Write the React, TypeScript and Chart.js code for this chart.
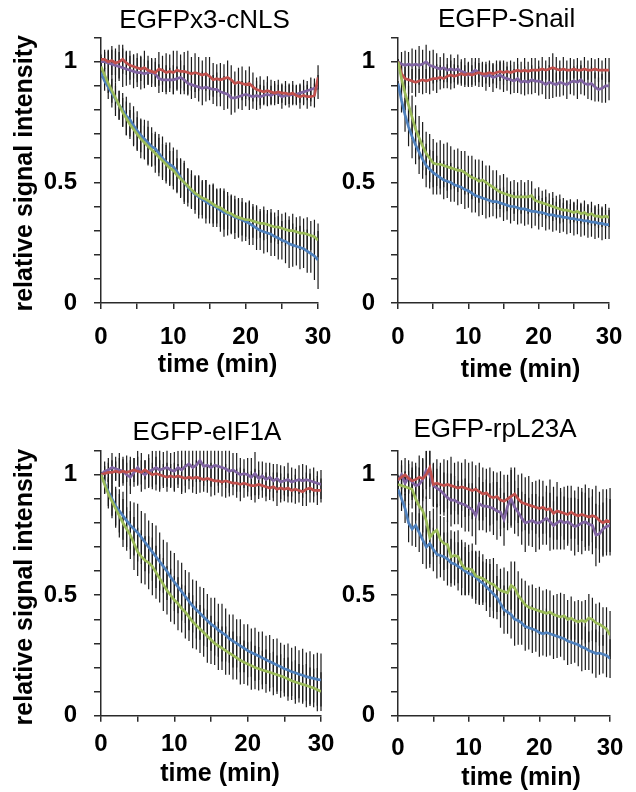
import React, { useEffect, useRef } from "react";
import { Chart, registerables } from "chart.js";

Chart.register(...registerables);

// ---------- data ----------
const TIME = [
  0, 0.5, 1, 1.5, 2, 2.5, 3, 3.5, 4, 4.5,
  5, 5.5, 6, 6.5, 7, 7.5, 8, 8.5, 9, 9.5,
  10, 10.5, 11, 11.5, 12, 12.5, 13, 13.5, 14, 14.5,
  15, 15.5, 16, 16.5, 17, 17.5, 18, 18.5, 19, 19.5,
  20, 20.5, 21, 21.5, 22, 22.5, 23, 23.5, 24, 24.5,
  25, 25.5, 26, 26.5, 27, 27.5, 28, 28.5, 29, 29.5,
  30,
];

const X_TICK_LABELS = ["0", "10", "20", "30"];
const Y_TICK_LABELS = ["0", "0.5", "1"];
const PANEL_TITLES = ["EGFPx3-cNLS", "EGFP-Snail", "EGFP-eIF1A", "EGFP-rpL23A"];
const SERIES_NAMES = ["red", "purple", "green", "blue"];
const X_TITLE = "time (min)";
const Y_TITLE = "relative signal intensity";

// Panel 1: EGFPx3-cNLS
const RED1 = [
  1.01, 1.01, 1.0, 1.005, 0.995, 1.0, 1.01, 0.995, 0.985, 0.98,
  0.975, 0.97, 0.975, 0.965, 0.96, 0.955, 0.97, 0.965, 0.955, 0.96,
  0.955, 0.965, 0.96, 0.96, 0.955, 0.95, 0.955, 0.95, 0.945, 0.95,
  0.94, 0.925, 0.93, 0.925, 0.93, 0.935, 0.925, 0.91, 0.915, 0.91,
  0.905, 0.91, 0.895, 0.885, 0.88, 0.875, 0.88, 0.875, 0.87, 0.875,
  0.87, 0.87, 0.865, 0.87, 0.86, 0.855, 0.86, 0.855, 0.855, 0.86,
  0.935,
];
const PUR1 = [
  1.0, 1.0, 0.995, 0.99, 0.985, 0.98, 0.975, 0.97, 0.965, 0.96,
  0.955, 0.955, 0.95, 0.955, 0.955, 0.95, 0.93, 0.925, 0.925, 0.925,
  0.925, 0.93, 0.935, 0.925, 0.91, 0.905, 0.9, 0.895, 0.89, 0.895,
  0.89, 0.885, 0.885, 0.875, 0.87, 0.865, 0.85, 0.85, 0.855, 0.86,
  0.865, 0.86, 0.855, 0.86, 0.855, 0.86, 0.865, 0.86, 0.87, 0.865,
  0.855, 0.86, 0.86, 0.865, 0.865, 0.87, 0.875, 0.88, 0.885, 0.89,
  0.895,
];
const GRN1 = [
  0.98, 0.945, 0.91, 0.88, 0.85, 0.82, 0.79, 0.765, 0.74, 0.72,
  0.7, 0.68, 0.665, 0.65, 0.635, 0.62, 0.605, 0.59, 0.575, 0.56,
  0.55, 0.53, 0.515, 0.5, 0.485, 0.47, 0.455, 0.445, 0.435, 0.43,
  0.42, 0.41, 0.4, 0.395, 0.385, 0.375, 0.37, 0.36, 0.355, 0.35,
  0.345, 0.345, 0.34, 0.335, 0.33, 0.33, 0.325, 0.32, 0.315, 0.315,
  0.31, 0.305, 0.3, 0.3, 0.295, 0.29, 0.29, 0.285, 0.28, 0.275,
  0.26,
];
const BLU1 = [
  0.955, 0.92, 0.895, 0.87, 0.845, 0.82, 0.8, 0.775, 0.76, 0.735,
  0.715, 0.695, 0.68, 0.665, 0.648, 0.64, 0.62, 0.6, 0.585, 0.575,
  0.565, 0.545, 0.52, 0.5, 0.48, 0.465, 0.45, 0.44, 0.43, 0.42,
  0.41, 0.405, 0.395, 0.385, 0.375, 0.37, 0.365, 0.355, 0.35, 0.345,
  0.337, 0.33, 0.32, 0.31, 0.3, 0.295, 0.29, 0.285, 0.275, 0.27,
  0.26, 0.255, 0.245, 0.24, 0.235, 0.23, 0.225, 0.215, 0.205, 0.195,
  0.178,
];
const ERR_RED1 = [
  0.02, 0.04, 0.05, 0.06, 0.05, 0.07, 0.06, 0.05, 0.06, 0.05,
  0.06, 0.05, 0.07, 0.06, 0.05, 0.06, 0.07, 0.06, 0.08, 0.07,
  0.09, 0.08, 0.07, 0.08, 0.09, 0.07, 0.08, 0.07, 0.06, 0.07,
  0.08, 0.07, 0.06, 0.07, 0.06, 0.07, 0.06, 0.05, 0.06, 0.07,
  0.06, 0.07, 0.06, 0.05, 0.06, 0.05, 0.06, 0.05, 0.04, 0.05,
  0.04, 0.05, 0.04, 0.05, 0.04, 0.05, 0.04, 0.05, 0.04, 0.05,
  0.05,
];
const ERR_PUR1 = [
  0.02, 0.04, 0.05, 0.06, 0.07, 0.06, 0.08, 0.07, 0.06, 0.07,
  0.06, 0.07, 0.06, 0.05, 0.06, 0.05, 0.06, 0.05, 0.06, 0.05,
  0.06, 0.05, 0.07, 0.06, 0.05, 0.06, 0.05, 0.06, 0.07, 0.06,
  0.05, 0.06, 0.07, 0.06, 0.07, 0.06, 0.07, 0.06, 0.05, 0.06,
  0.05, 0.06, 0.05, 0.06, 0.05, 0.04, 0.05, 0.04, 0.05, 0.04,
  0.05, 0.04, 0.05, 0.04, 0.04, 0.04, 0.05, 0.04, 0.05, 0.04,
  0.05,
];
const ERR_GRN1 = [
  0.01, 0.03, 0.04, 0.05, 0.05, 0.06, 0.06, 0.07, 0.06, 0.07,
  0.07, 0.08, 0.07, 0.08, 0.07, 0.08, 0.08, 0.07, 0.08, 0.07,
  0.08, 0.07, 0.08, 0.08, 0.07, 0.08, 0.07, 0.08, 0.07, 0.08,
  0.07, 0.08, 0.07, 0.08, 0.08, 0.07, 0.08, 0.07, 0.08, 0.07,
  0.07, 0.08, 0.07, 0.07, 0.06, 0.07, 0.06, 0.07, 0.06, 0.07,
  0.06, 0.07, 0.06, 0.07, 0.06, 0.07, 0.06, 0.07, 0.06, 0.07,
  0.07,
];
const ERR_BLU1 = [
  0.02, 0.04, 0.05, 0.06, 0.07, 0.06, 0.07, 0.08, 0.07, 0.08,
  0.08, 0.07, 0.08, 0.09, 0.08, 0.07, 0.08, 0.09, 0.08, 0.09,
  0.08, 0.09, 0.08, 0.09, 0.08, 0.07, 0.08, 0.09, 0.08, 0.09,
  0.08, 0.09, 0.08, 0.09, 0.1, 0.09, 0.08, 0.09, 0.08, 0.09,
  0.08, 0.09, 0.08, 0.09, 0.08, 0.09, 0.08, 0.09, 0.08, 0.09,
  0.08, 0.09, 0.1, 0.09, 0.08, 0.09, 0.08, 0.09, 0.08, 0.1,
  0.12,
];

// Panel 2: EGFP-Snail
const RED2 = [
  1.0, 0.95, 0.93, 0.925, 0.92, 0.915, 0.92, 0.925, 0.92, 0.925,
  0.93, 0.93, 0.935, 0.93, 0.94, 0.945, 0.94, 0.945, 0.95, 0.945,
  0.95, 0.945, 0.95, 0.955, 0.95, 0.95, 0.955, 0.95, 0.955, 0.96,
  0.955, 0.96, 0.955, 0.96, 0.965, 0.96, 0.965, 0.96, 0.965, 0.965,
  0.965, 0.97, 0.965, 0.97, 0.975, 0.97, 0.965, 0.97, 0.965, 0.965,
  0.97, 0.965, 0.965, 0.97, 0.965, 0.965, 0.97, 0.965, 0.965, 0.965,
  0.965,
];
const PUR2 = [
  1.0, 0.99, 0.985, 0.99, 0.985, 0.99, 0.985, 0.99, 1.0, 0.985,
  0.98, 0.975, 0.97, 0.975, 0.965, 0.97, 0.965, 0.97, 0.96, 0.955,
  0.945, 0.955, 0.965, 0.955, 0.945, 0.94, 0.945, 0.935, 0.94, 0.945,
  0.935, 0.93, 0.925, 0.92, 0.93, 0.915, 0.92, 0.915, 0.925, 0.92,
  0.92, 0.915, 0.905, 0.915, 0.91, 0.905, 0.915, 0.91, 0.905, 0.915,
  0.92, 0.915, 0.925, 0.91, 0.905, 0.91, 0.895, 0.885, 0.89, 0.9,
  0.9,
];
const GRN2 = [
  1.0, 0.93, 0.87, 0.82, 0.77, 0.72, 0.685, 0.65, 0.62, 0.6,
  0.58, 0.575, 0.575, 0.57, 0.565, 0.56, 0.555, 0.55, 0.55, 0.54,
  0.53, 0.52, 0.515, 0.505, 0.51, 0.5, 0.49, 0.48, 0.47, 0.46,
  0.455, 0.45, 0.445, 0.44, 0.44, 0.44, 0.44, 0.44, 0.445, 0.425,
  0.42, 0.415, 0.41, 0.405, 0.4, 0.395, 0.39, 0.385, 0.385, 0.38,
  0.375, 0.38, 0.37, 0.375, 0.365, 0.37, 0.36, 0.36, 0.355, 0.36,
  0.355,
];
const BLU2 = [
  0.91, 0.84, 0.78, 0.73, 0.69, 0.655, 0.625, 0.595, 0.57, 0.555,
  0.54, 0.53, 0.52, 0.51, 0.505, 0.5, 0.49, 0.485, 0.48, 0.47,
  0.465, 0.455, 0.445, 0.44, 0.435, 0.43, 0.425, 0.42, 0.42, 0.415,
  0.41, 0.405, 0.4, 0.4, 0.395, 0.39, 0.39, 0.385, 0.38, 0.38,
  0.375, 0.375, 0.37, 0.365, 0.365, 0.36, 0.36, 0.355, 0.355, 0.35,
  0.35, 0.345, 0.345, 0.34, 0.34, 0.335, 0.335, 0.33, 0.33, 0.325,
  0.325,
];
const ERR_RED2 = [
  0.01, 0.04, 0.05, 0.06, 0.05, 0.06, 0.05, 0.06, 0.05, 0.06,
  0.05, 0.06, 0.05, 0.04, 0.05, 0.06, 0.05, 0.04, 0.05, 0.04,
  0.05, 0.04, 0.05, 0.04, 0.05, 0.04, 0.05, 0.04, 0.05, 0.04,
  0.05, 0.04, 0.05, 0.04, 0.05, 0.04, 0.05, 0.04, 0.05, 0.05,
  0.04, 0.05, 0.04, 0.05, 0.06, 0.05, 0.04, 0.05, 0.04, 0.05,
  0.04, 0.05, 0.04, 0.05, 0.04, 0.05, 0.04, 0.05, 0.04, 0.05,
  0.05,
];
const ERR_PUR2 = [
  0.01, 0.05, 0.06, 0.05, 0.07, 0.06, 0.08, 0.06, 0.07, 0.06,
  0.07, 0.06, 0.05, 0.06, 0.05, 0.06, 0.05, 0.06, 0.05, 0.06,
  0.05, 0.06, 0.05, 0.06, 0.05, 0.06, 0.05, 0.06, 0.05, 0.06,
  0.06, 0.05, 0.06, 0.05, 0.06, 0.05, 0.06, 0.05, 0.06, 0.05,
  0.06, 0.05, 0.06, 0.07, 0.06, 0.05, 0.06, 0.05, 0.06, 0.05,
  0.06, 0.07, 0.06, 0.05, 0.06, 0.07, 0.06, 0.05, 0.06, 0.07,
  0.06,
];
const ERR_GRN2 = [
  0.01, 0.05, 0.07, 0.08, 0.09, 0.1, 0.09, 0.1, 0.09, 0.1,
  0.1, 0.09, 0.1, 0.09, 0.1, 0.09, 0.08, 0.09, 0.08, 0.09,
  0.08, 0.09, 0.08, 0.09, 0.08, 0.07, 0.08, 0.07, 0.08, 0.07,
  0.08, 0.07, 0.06, 0.07, 0.06, 0.07, 0.06, 0.07, 0.06, 0.05,
  0.06, 0.05, 0.06, 0.05, 0.06, 0.05, 0.06, 0.05, 0.04, 0.05,
  0.04, 0.05, 0.04, 0.05, 0.04, 0.05, 0.04, 0.05, 0.04, 0.05,
  0.04,
];
const ERR_BLU2 = [
  0.01, 0.05, 0.07, 0.08, 0.09, 0.08, 0.09, 0.08, 0.09, 0.08,
  0.09, 0.08, 0.07, 0.08, 0.07, 0.08, 0.07, 0.08, 0.07, 0.08,
  0.07, 0.08, 0.07, 0.08, 0.07, 0.08, 0.07, 0.06, 0.07, 0.06,
  0.07, 0.06, 0.07, 0.06, 0.07, 0.06, 0.07, 0.06, 0.07, 0.06,
  0.07, 0.06, 0.07, 0.06, 0.07, 0.06, 0.07, 0.06, 0.07, 0.06,
  0.07, 0.06, 0.07, 0.06, 0.07, 0.06, 0.07, 0.06, 0.07, 0.06,
  0.06,
];

// Panel 3: EGFP-eIF1A
const RED3 = [
  1.0, 1.005, 1.01, 1.01, 1.015, 1.01, 1.015, 1.01, 1.015, 1.02,
  1.015, 1.01, 1.02, 1.01, 1.0, 1.005, 1.0, 0.995, 0.99, 0.995,
  0.99, 0.995, 0.99, 0.985, 0.99, 0.985, 0.99, 0.985, 0.98, 0.985,
  0.98, 0.975, 0.975, 0.97, 0.975, 0.97, 0.965, 0.965, 0.96, 0.965,
  0.96, 0.955, 0.955, 0.96, 0.955, 0.95, 0.945, 0.95, 0.94, 0.945,
  0.94, 0.945, 0.935, 0.94, 0.935, 0.93, 0.94, 0.945, 0.935, 0.935,
  0.935,
];
const PUR3 = [
  1.0, 1.015, 1.02, 1.03, 1.025, 1.02, 1.015, 1.0, 0.99, 1.01,
  1.03, 1.01, 1.0, 1.015, 1.02, 1.03, 1.02, 1.025, 1.03, 1.02,
  1.015, 1.03, 1.02, 1.035, 1.045, 1.03, 1.04, 1.06, 1.035, 1.04,
  1.03, 1.04, 1.035, 1.03, 1.025, 1.015, 1.02, 1.01, 1.0, 1.005,
  1.0, 0.99, 1.005, 0.985, 0.995, 0.98, 0.99, 0.975, 0.985, 0.97,
  0.975, 0.98, 0.97, 0.975, 0.98, 0.975, 0.98, 0.975, 0.97, 0.965,
  0.96,
];
const GRN3 = [
  1.0, 0.96, 0.92, 0.89, 0.86, 0.83, 0.8, 0.775, 0.75, 0.715,
  0.68, 0.66, 0.645, 0.635, 0.62, 0.595, 0.57, 0.545, 0.52, 0.5,
  0.48, 0.465, 0.445, 0.43, 0.41, 0.39, 0.375, 0.36, 0.345, 0.33,
  0.315, 0.3, 0.29, 0.28, 0.27, 0.26, 0.25, 0.24, 0.23, 0.222,
  0.215, 0.208, 0.2, 0.195, 0.19, 0.185, 0.18, 0.175, 0.17, 0.165,
  0.16, 0.152, 0.145, 0.14, 0.135, 0.13, 0.125, 0.12, 0.115, 0.108,
  0.1,
];
const BLU3 = [
  1.0, 0.965, 0.93, 0.9, 0.87, 0.85, 0.83, 0.81, 0.79, 0.775,
  0.76, 0.74, 0.72, 0.7, 0.68, 0.66, 0.64, 0.62, 0.6, 0.575,
  0.555, 0.535, 0.515, 0.495, 0.475, 0.455, 0.44, 0.425, 0.41, 0.395,
  0.38, 0.37, 0.355, 0.345, 0.335, 0.32, 0.31, 0.3, 0.29, 0.28,
  0.27, 0.262, 0.255, 0.248, 0.24, 0.232, 0.225, 0.218, 0.21, 0.203,
  0.195, 0.19, 0.182, 0.178, 0.172, 0.168, 0.162, 0.158, 0.155, 0.151,
  0.148,
];
const ERR_RED3 = [
  0.01, 0.03, 0.04, 0.05, 0.04, 0.06, 0.05, 0.04, 0.06, 0.05,
  0.06, 0.05, 0.04, 0.06, 0.05, 0.07, 0.06, 0.05, 0.06, 0.05,
  0.06, 0.05, 0.07, 0.06, 0.05, 0.06, 0.07, 0.06, 0.05, 0.06,
  0.07, 0.06, 0.05, 0.06, 0.07, 0.06, 0.05, 0.06, 0.07, 0.06,
  0.05, 0.06, 0.07, 0.06, 0.05, 0.06, 0.05, 0.06, 0.07, 0.06,
  0.05, 0.06, 0.05, 0.06, 0.05, 0.06, 0.07, 0.06, 0.05, 0.06,
  0.05,
];
const ERR_PUR3 = [
  0.01, 0.04, 0.05, 0.06, 0.05, 0.07, 0.06, 0.08, 0.07, 0.06,
  0.07, 0.08, 0.06, 0.07, 0.08, 0.07, 0.09, 0.07, 0.08, 0.07,
  0.08, 0.07, 0.09, 0.08, 0.07, 0.08, 0.07, 0.09, 0.08, 0.07,
  0.08, 0.07, 0.08, 0.07, 0.08, 0.09, 0.07, 0.08, 0.07, 0.06,
  0.07, 0.08, 0.09, 0.07, 0.06, 0.07, 0.06, 0.07, 0.06, 0.07,
  0.06, 0.07, 0.06, 0.05, 0.06, 0.07, 0.06, 0.05, 0.06, 0.05,
  0.06,
];
const ERR_GRN3 = [
  0.01, 0.04, 0.06, 0.07, 0.08, 0.09, 0.1, 0.09, 0.1, 0.11,
  0.1, 0.11, 0.1, 0.11, 0.12, 0.11, 0.1, 0.11, 0.1, 0.11,
  0.1, 0.11, 0.1, 0.11, 0.1, 0.11, 0.1, 0.1, 0.1, 0.11,
  0.1, 0.09, 0.1, 0.09, 0.1, 0.09, 0.1, 0.09, 0.1, 0.09,
  0.09, 0.1, 0.09, 0.09, 0.08, 0.09, 0.08, 0.09, 0.08, 0.09,
  0.08, 0.09, 0.08, 0.09, 0.08, 0.08, 0.09, 0.08, 0.08, 0.09,
  0.08,
];
const ERR_BLU3 = [
  0.01, 0.04, 0.06, 0.07, 0.08, 0.09, 0.1, 0.11, 0.1, 0.11,
  0.12, 0.11, 0.12, 0.11, 0.12, 0.13, 0.12, 0.11, 0.12, 0.11,
  0.12, 0.11, 0.12, 0.11, 0.12, 0.11, 0.12, 0.11, 0.12, 0.11,
  0.11, 0.12, 0.11, 0.12, 0.11, 0.1, 0.11, 0.1, 0.11, 0.1,
  0.11, 0.1, 0.11, 0.1, 0.11, 0.1, 0.11, 0.1, 0.11, 0.1,
  0.1, 0.11, 0.1, 0.11, 0.1, 0.11, 0.1, 0.11, 0.1, 0.11,
  0.11,
];

// Panel 4: EGFP-rpL23A
const RED4 = [
  0.98, 0.99, 1.0, 0.985, 0.975, 0.98, 0.99, 0.985, 1.0, 1.03,
  0.96, 0.965, 0.96, 0.955, 0.96, 0.955, 0.95, 0.945, 0.95, 0.945,
  0.94, 0.935, 0.94, 0.93, 0.92, 0.925, 0.91, 0.905, 0.91, 0.895,
  0.89, 0.9, 0.91, 0.92, 0.9, 0.885, 0.88, 0.875, 0.87, 0.865,
  0.86, 0.865, 0.855, 0.86, 0.84, 0.85, 0.845, 0.84, 0.835, 0.845,
  0.835, 0.83, 0.835, 0.83, 0.825, 0.83, 0.825, 0.81, 0.8, 0.81,
  0.805,
];
const PUR4 = [
  0.975, 1.0, 0.965, 0.99, 0.97, 0.955, 0.96, 0.98, 1.02, 1.0,
  0.955, 0.945, 0.935, 0.92, 0.905, 0.895, 0.895, 0.885, 0.88, 0.875,
  0.865, 0.855, 0.83, 0.88, 0.87, 0.87, 0.865, 0.86, 0.85, 0.845,
  0.815, 0.87, 0.9, 0.865, 0.845, 0.82, 0.8, 0.805, 0.81, 0.8,
  0.8, 0.81, 0.82, 0.805, 0.79, 0.8, 0.81, 0.8, 0.805, 0.795,
  0.785, 0.79, 0.8, 0.805, 0.795, 0.79, 0.75, 0.755, 0.775, 0.785,
  0.79,
];
const GRN4 = [
  0.96, 0.955, 0.95, 0.945, 0.94, 0.9, 0.87, 0.85, 0.81, 0.74,
  0.76, 0.77, 0.73, 0.715, 0.71, 0.66, 0.665, 0.66, 0.63, 0.61,
  0.61, 0.605, 0.58, 0.575, 0.57, 0.56, 0.55, 0.545, 0.53, 0.52,
  0.515, 0.51, 0.54, 0.53, 0.5, 0.48, 0.46, 0.45, 0.445, 0.44,
  0.435, 0.43, 0.425, 0.43, 0.42, 0.415, 0.41, 0.415, 0.4, 0.405,
  0.395, 0.39, 0.395, 0.39, 0.405, 0.4, 0.385, 0.38, 0.37, 0.36,
  0.335,
];
const BLU4 = [
  0.94, 0.9, 0.86, 0.8, 0.775, 0.79, 0.76, 0.73, 0.7, 0.714,
  0.69, 0.67, 0.665, 0.66, 0.65, 0.635, 0.63, 0.62, 0.61, 0.6,
  0.59, 0.585, 0.575, 0.56, 0.55, 0.535, 0.52, 0.505, 0.49, 0.465,
  0.44, 0.43, 0.42, 0.4, 0.395, 0.385, 0.37, 0.365, 0.36, 0.355,
  0.345, 0.34, 0.345, 0.34, 0.335, 0.33, 0.325, 0.32, 0.31, 0.305,
  0.3, 0.295, 0.285, 0.28, 0.27, 0.265, 0.258, 0.26, 0.255, 0.25,
  0.237,
];
const ERR_RED4 = [
  0.02, 0.05, 0.07, 0.06, 0.08, 0.07, 0.09, 0.08, 0.1, 0.08,
  0.09, 0.1, 0.09, 0.11, 0.1, 0.12, 0.1, 0.11, 0.1, 0.12,
  0.11, 0.12, 0.1, 0.12, 0.11, 0.1, 0.12, 0.11, 0.1, 0.12,
  0.11, 0.1, 0.12, 0.11, 0.1, 0.12, 0.11, 0.12, 0.1, 0.11,
  0.12, 0.11, 0.1, 0.12, 0.11, 0.12, 0.1, 0.11, 0.12, 0.11,
  0.1, 0.12, 0.11, 0.13, 0.12, 0.11, 0.13, 0.12, 0.14, 0.13,
  0.14,
];
const ERR_PUR4 = [
  0.02, 0.06, 0.05, 0.07, 0.06, 0.08, 0.07, 0.09, 0.08, 0.1,
  0.09, 0.08, 0.1, 0.09, 0.1, 0.11, 0.1, 0.09, 0.1, 0.11,
  0.1, 0.11, 0.12, 0.11, 0.1, 0.11, 0.1, 0.11, 0.12, 0.1,
  0.11, 0.1, 0.12, 0.11, 0.1, 0.11, 0.12, 0.1, 0.11, 0.12,
  0.11, 0.1, 0.11, 0.12, 0.1, 0.11, 0.12, 0.11, 0.1, 0.11,
  0.12, 0.11, 0.13, 0.12, 0.11, 0.12, 0.13, 0.12, 0.11, 0.12,
  0.11,
];
const ERR_GRN4 = [
  0.02, 0.05, 0.06, 0.07, 0.08, 0.09, 0.1, 0.09, 0.1, 0.11,
  0.1, 0.11, 0.1, 0.11, 0.1, 0.11, 0.1, 0.11, 0.1, 0.11,
  0.1, 0.11, 0.1, 0.11, 0.1, 0.09, 0.1, 0.11, 0.1, 0.09,
  0.1, 0.09, 0.1, 0.11, 0.1, 0.09, 0.1, 0.09, 0.1, 0.09,
  0.1, 0.09, 0.1, 0.09, 0.08, 0.09, 0.1, 0.09, 0.08, 0.09,
  0.08, 0.09, 0.08, 0.09, 0.1, 0.09, 0.08, 0.09, 0.08, 0.09,
  0.1,
];
const ERR_BLU4 = [
  0.02, 0.05, 0.06, 0.08, 0.07, 0.09, 0.08, 0.1, 0.09, 0.1,
  0.09, 0.1, 0.09, 0.1, 0.11, 0.1, 0.09, 0.1, 0.11, 0.1,
  0.09, 0.1, 0.11, 0.1, 0.09, 0.1, 0.11, 0.1, 0.09, 0.1,
  0.1, 0.09, 0.1, 0.11, 0.1, 0.09, 0.1, 0.09, 0.1, 0.09,
  0.1, 0.09, 0.1, 0.09, 0.1, 0.09, 0.08, 0.09, 0.1, 0.09,
  0.08, 0.09, 0.1, 0.09, 0.08, 0.09, 0.1, 0.09, 0.08, 0.09,
  0.08,
];

const PANEL_VALUES = [
  [RED1, PUR1, GRN1, BLU1],
  [RED2, PUR2, GRN2, BLU2],
  [RED3, PUR3, GRN3, BLU3],
  [RED4, PUR4, GRN4, BLU4],
];
const PANEL_ERRORS = [
  [ERR_RED1, ERR_PUR1, ERR_GRN1, ERR_BLU1],
  [ERR_RED2, ERR_PUR2, ERR_GRN2, ERR_BLU2],
  [ERR_RED3, ERR_PUR3, ERR_GRN3, ERR_BLU3],
  [ERR_RED4, ERR_PUR4, ERR_GRN4, ERR_BLU4],
];

// ---------- styles / layout ----------
const SERIES_COLORS = ["#C0504D", "#8064A2", "#9BBB59", "#4F81BD"];
const DRAW_ORDER = [2, 3, 0, 1]; // lower draws on top
const FONT_FAMILY = "'Liberation Sans', Arial, sans-serif";
const AXIS_COLOR = "#2a2a2a";

type PanelLayout = {
  left: number; top: number; width: number; height: number;
  padTop: number; titleGap: number; areaLeft: number; areaBottom: number;
  padRight: number; xTickPad: number; xTitlePad: number; yTickPad: number;
  yTitle: boolean; titleShift: number; xTitleShift: [number, number]; yTitleShift: [number, number];
};

const LAYOUT: PanelLayout[] = [
  { left: 0, top: 0, width: 345, height: 396, padTop: 5.4, titleGap: 1.0, areaLeft: 101, areaBottom: 303, padRight: 24, xTickPad: 13.6, xTitlePad: 18, yTickPad: 17, yTitle: true, titleShift: -5, xTitleShift: [8, 2], yTitleShift: [0, 3] },
  { left: 318, top: 0, width: 318, height: 396, padTop: 4.4, titleGap: 2.0, areaLeft: 80, areaBottom: 303, padRight: 18, xTickPad: 13.6, xTitlePad: 13, yTickPad: 16, yTitle: false, titleShift: 3, xTitleShift: [17, 2], yTitleShift: [0, 0] },
  { left: 0, top: 396, width: 345, height: 396, padTop: 20.9, titleGap: 2.6, areaLeft: 101, areaBottom: 319.7, padRight: 24, xTickPad: 8.6, xTitlePad: 5, yTickPad: 17, yTitle: true, titleShift: -4, xTitleShift: [9, 2], yTitleShift: [0, 4] },
  { left: 318, top: 396, width: 318, height: 396, padTop: 18.4, titleGap: 5.1, areaLeft: 80, areaBottom: 319.7, padRight: 18, xTickPad: 12.6, xTitlePad: 1, yTickPad: 16, yTitle: false, titleShift: -9, xTitleShift: [17, 2], yTitleShift: [0, 0] },
];

const errorBarPlugin = {
  id: "errorBars",
  beforeDatasetsDraw(chart: any) {
    const { ctx, chartArea } = chart;
    const xs = chart.scales.x;
    const ys = chart.scales.y;
    ctx.save();
    ctx.beginPath();
    ctx.rect(chartArea.left, chartArea.top, chartArea.right - chartArea.left + 2, chartArea.bottom - chartArea.top);
    ctx.clip();
    ctx.strokeStyle = "#1a1a1a";
    ctx.lineWidth = 1.2;
    chart.data.datasets.forEach((ds: any) => {
      const errs: number[] = ds.errors;
      ds.data.forEach((p: any, i: number) => {
        const e = errs[i];
        const px = xs.getPixelForValue(p.x);
        ctx.beginPath();
        ctx.moveTo(px, ys.getPixelForValue(p.y - e));
        ctx.lineTo(px, ys.getPixelForValue(p.y + e));
        ctx.stroke();
      });
    });
    ctx.restore();
  },
};

// centers the panel title over the plot area and nudges axis titles
const placementPlugin = {
  id: "placement",
  afterLayout(chart: any, _args: any, opts: any) {
    const tb = chart.titleBlock;
    const ca = chart.chartArea;
    const ts = (opts && opts.title) || 0;
    if (tb) {
      tb.left = ca.left + ts;
      tb.right = ca.right + ts;
    }
    ["x", "y"].forEach((id) => {
      const s = chart.scales[id];
      if (!s || s.__shifted) return;
      const d = (opts && opts[id]) || [0, 0];
      const orig = s.drawTitle;
      s.drawTitle = function () {
        const c = this.ctx;
        c.save();
        c.translate(d[0], d[1]);
        orig.call(this);
        c.restore();
      };
      s.__shifted = true;
    });
  },
};

function Panel({ idx }: { idx: number }) {
  const ref = useRef<HTMLCanvasElement | null>(null);
  const L = LAYOUT[idx];

  useEffect(() => {
    if (!ref.current) return;
    const values = PANEL_VALUES[idx];
    const errors = PANEL_ERRORS[idx];
    const datasets = values.map((vals, s) => ({
      label: SERIES_NAMES[s],
      data: TIME.map((t, i) => ({ x: t, y: vals[i] })),
      errors: errors[s],
      borderColor: SERIES_COLORS[s],
      backgroundColor: SERIES_COLORS[s],
      borderWidth: 2.7,
      pointRadius: 0,
      tension: 0,
      fill: false,
      order: DRAW_ORDER[s],
    }));

    const chart = new Chart(ref.current, {
      type: "line",
      data: { datasets } as any,
      options: {
        animation: false,
        responsive: false,
        devicePixelRatio: 1,
        events: [],
        layout: { padding: { top: L.padTop, left: 0, right: L.padRight, bottom: 0 } },
        plugins: {
          legend: { display: false },
          tooltip: { enabled: false },
          title: {
            display: true,
            text: PANEL_TITLES[idx],
            color: "#000",
            font: { family: FONT_FAMILY, size: 26, weight: "normal", lineHeight: 1.2 },
            padding: { top: 0, bottom: L.titleGap },
          },
          placement: { title: L.titleShift, x: L.xTitleShift, y: L.yTitleShift },
        },
        scales: {
          x: {
            type: "linear",
            min: 0,
            max: 30,
            afterFit: (s: any) => { s.height = L.height - L.areaBottom; },
            ticks: {
              stepSize: 5,
              autoSkip: false,
              maxRotation: 0,
              padding: L.xTickPad,
              color: "#000",
              font: { family: FONT_FAMILY, size: 24, weight: "bold", lineHeight: 1.2 },
              callback: (v: any) => {
                const s = String(Math.round(Number(v)));
                return X_TICK_LABELS.includes(s) && Math.abs(Number(v) - Number(s)) < 1e-6 ? s : "";
              },
            },
            grid: { display: true, drawOnChartArea: false, drawTicks: true, tickLength: 6, color: AXIS_COLOR, lineWidth: 1.5 },
            border: { display: true, color: AXIS_COLOR, width: 1.5 },
            title: {
              display: true,
              text: X_TITLE,
              color: "#000",
              font: { family: FONT_FAMILY, size: 25, weight: "bold", lineHeight: 1.2 },
              padding: { top: 0, bottom: L.xTitlePad },
            },
          },
          y: {
            type: "linear",
            min: 0,
            max: 1.1,
            afterFit: (s: any) => { s.width = L.areaLeft; },
            ticks: {
              stepSize: 0.1,
              autoSkip: false,
              padding: L.yTickPad,
              color: "#000",
              font: { family: FONT_FAMILY, size: 24, weight: "bold", lineHeight: 1.2 },
              callback: (v: any) => {
                const s = String(Math.round(Number(v) * 10) / 10);
                return Y_TICK_LABELS.includes(s) ? s : "";
              },
            },
            grid: { display: true, drawOnChartArea: false, drawTicks: true, tickLength: 7, color: AXIS_COLOR, lineWidth: 1.5 },
            border: { display: true, color: AXIS_COLOR, width: 1.5 },
            title: {
              display: L.yTitle,
              text: Y_TITLE,
              color: "#000",
              font: { family: FONT_FAMILY, size: 25, weight: "bold", lineHeight: 1.2 },
              padding: { top: 10, bottom: 0 },
            },
          },
        },
      } as any,
      plugins: [errorBarPlugin, placementPlugin],
    });
    return () => chart.destroy();
  }, [idx]);

  return (
    <canvas
      ref={ref}
      width={L.width}
      height={L.height}
      style={{ position: "absolute", left: L.left, top: L.top, width: L.width, height: L.height }}
    />
  );
}

export default function App() {
  return (
    <div style={{ position: "absolute", left: 0, top: 0, width: 636, height: 792, background: "#fff", overflow: "hidden" }}>
      {[0, 1, 2, 3].map((i) => (
        <Panel key={i} idx={i} />
      ))}
    </div>
  );
}
